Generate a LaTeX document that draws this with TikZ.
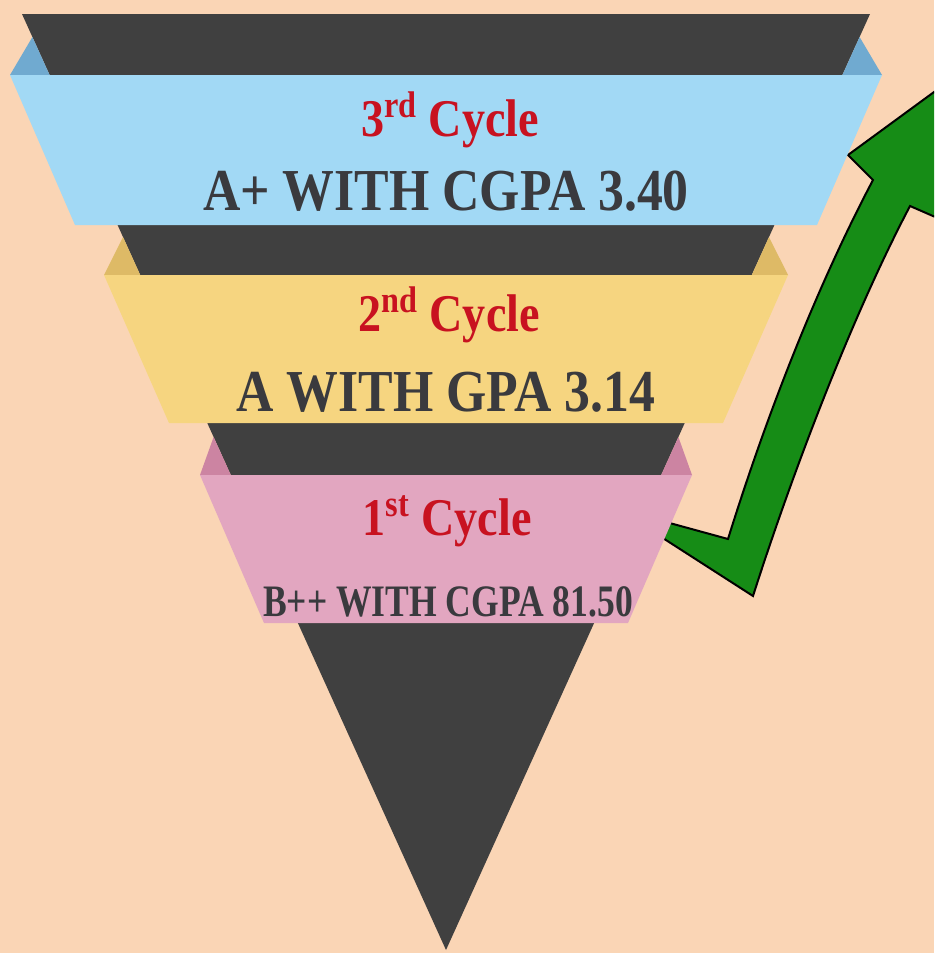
\documentclass[tikz,border=0pt]{standalone}
\usepackage{fontspec}
\setmainfont{Liberation Serif}
\newfontfamily\cyclefont{Liberation Serif}[FakeStretch=0.87]
\newfontfamily\narrowfont{Liberation Serif}[FakeStretch=0.79]

\definecolor{peach}{RGB}{250,213,181}
\definecolor{funnel}{RGB}{64,64,64}
\definecolor{blueface}{RGB}{162,217,245}
\definecolor{blueflap}{RGB}{112,170,208}
\definecolor{yellowface}{RGB}{246,213,128}
\definecolor{yellowflap}{RGB}{222,186,102}
\definecolor{pinkface}{RGB}{226,166,192}
\definecolor{pinkflap}{RGB}{204,132,162}
\definecolor{cyclered}{RGB}{200,18,32}
\definecolor{gradegray}{RGB}{58,58,62}
\definecolor{arrowgreen}{RGB}{22,140,22}

\tikzset{
	cyclelabel/.style={font=\cyclefont\bfseries\fontsize{26.5}{30}\selectfont,text=cyclered,anchor=base,inner sep=0pt},
	gradelabel/.style={font=\cyclefont\bfseries\fontsize{29.75}{34}\selectfont,text=gradegray,anchor=base,inner sep=0pt},
}

\begin{document}
\begin{tikzpicture}[x=0.5pt,y=-0.5pt]
	\useasboundingbox (0,0) rectangle (934,953);
	\fill[peach] (0,0) rectangle (934,953);
	% arrow, behind the bands
	\begin{scope}
		\clip (0,0) rectangle (934,953);
		\filldraw[fill=arrowgreen,draw=black,line width=1pt,line join=miter]
		(655,519) -- (728,539) .. controls (765,420) and (815,290) .. (873,180)
		-- (848,155) -- (975,62) -- (965,230) -- (910,206)
		.. controls (850,320) and (790,480) .. (753,596) -- (655,533) -- cycle;
	\end{scope}
	\fill[funnel] (22,14) -- (870,14) -- (446,950) -- cycle;
	\foreach \t/\b/\w/\v/\flap/\face in {75/225/436/371/blueflap/blueface,275/423/342/277/yellowflap/yellowface,475/623/246/182/pinkflap/pinkface}{
		\pgfmathsetmacro\e{(950-\t)/936*424}
		\pgfmathsetmacro\s{(950-\t+38)/936*424}
		\fill[\flap] (446-\s,\t-38) -- (446-\w,\t) -- (446-\e,\t) -- cycle;
		\fill[\flap] (446+\s,\t-38) -- (446+\w,\t) -- (446+\e,\t) -- cycle;
		\fill[\face] (446-\w,\t) -- (446+\w,\t) -- (446+\v,\b) -- (446-\v,\b) -- cycle;
	}
	\path
	(450,136) node[cyclelabel] (c3) {3\textsuperscript{rd} Cycle}
	(446,210) node[gradelabel] (g3) {A+ WITH CGPA 3.40}
	(449,331) node[cyclelabel] (c2) {2\textsuperscript{nd} Cycle}
	(446,411) node[gradelabel] (g2) {A WITH GPA 3.14}
	(447,535) node[cyclelabel] (c1) {1\textsuperscript{st} Cycle}
	(448,616) node[gradelabel,font=\narrowfont\bfseries\fontsize{22.5}{26}\selectfont] (g1) {B++ WITH CGPA 81.50}
	;
\end{tikzpicture}
\end{document}
